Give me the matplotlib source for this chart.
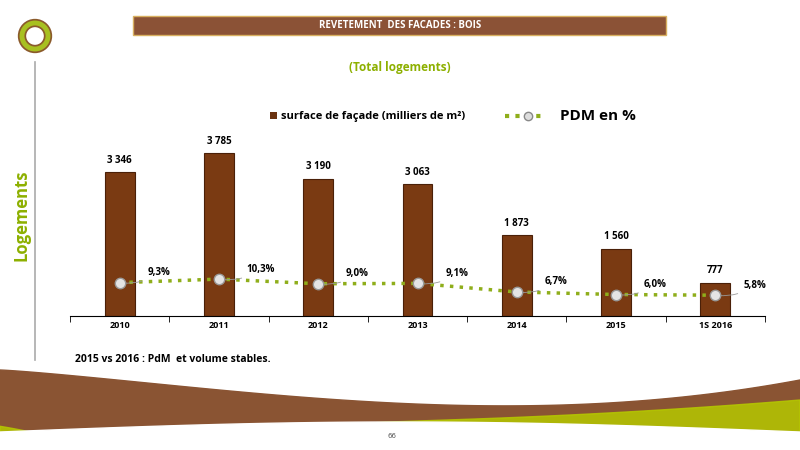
import matplotlib
matplotlib.use("Agg")
import matplotlib.pyplot as plt
from matplotlib.patches import Rectangle, Circle
import numpy as np

categories = ["2010", "2011", "2012", "2013", "2014", "2015", "1S 2016"]
surface = [3346, 3785, 3190, 3063, 1873, 1560, 777]
surface_labels = ["3 346", "3 785", "3 190", "3 063", "1 873", "1 560", "777"]
pdm = [9.3, 10.3, 9.0, 9.1, 6.7, 6.0, 5.8]
pdm_labels = ["9,3%", "10,3%", "9,0%", "9,1%", "6,7%", "6,0%", "5,8%"]

fig = plt.figure(figsize=(8, 4.5), dpi=100)
fig.patch.set_facecolor("white")
font = "Open Sans"

bg = fig.add_axes([0, 0, 1, 1], zorder=-5)
bg.set_xlim(0, 800); bg.set_ylim(450, 0); bg.axis("off")
xs = np.linspace(0, 800, 200)
bg.fill_between(xs, 450, 370 + 60*np.sin(np.pi*xs/1600)**1.2 - 50*(xs/800)**3, color="#8a5433")
bg.fill_between(xs, 450, 420 + 25*(xs/800) - 45*(xs/800)**2 + 30*np.exp(-((xs-150)/120)**2), color="#b5c800", alpha=0.85)
bg.fill_between(xs, 450, 432 - 10*np.sin(np.pi*xs/800), color="white")
bg.text(392, 436, "66", fontsize=5, color="#555555", ha="center", va="center")
bg.add_patch(Rectangle((133, 16), 533, 19, facecolor="#8b5236", edgecolor="#d8b060", lw=1))
bg.text(400, 26, "REVETEMENT  DES FACADES : BOIS", color="white", fontsize=7, fontweight="bold", ha="center", va="center", family=font)
bg.text(400, 67, "(Total logements)", color="#8db000", fontsize=8.5, fontweight="bold", ha="center", va="center", family=font)
bg.add_patch(Circle((35, 36), 13, facecolor="none", edgecolor="#8b5a2b", lw=6))
bg.add_patch(Circle((35, 36), 13, facecolor="none", edgecolor="#a8c020", lw=3.5))
bg.plot([35, 35], [62, 360], color="#aaaaaa", lw=1.2)
bg.text(22, 215, "Logements", color="#8db000", fontsize=12, fontweight="bold", rotation=90, ha="center", va="center", family=font)
bg.text(75, 360, "2015 vs 2016 : PdM  et volume stables.", fontsize=7.5, fontweight="bold", ha="left", va="center", family=font)
bg.add_patch(Rectangle((270, 112), 7, 7, facecolor="#6b3310"))
bg.text(281, 116, "surface de façade (milliers de m²)", fontsize=8, fontweight="bold", va="center", family=font)
bg.plot([505, 545], [116, 116], color="#8fae1b", lw=3, ls=(0, (1, 1.5)))
bg.plot([528], [116], "o", ms=6, color="#dddddd", mec="#888888")
bg.text(560, 116, "PDM en %", fontsize=11, fontweight="bold", va="center", family=font)

ax = fig.add_axes([70/800, 134/450, 695/800, 172/450])
x = np.arange(len(categories))
ax.bar(x, surface, width=0.3, color="#7a3a12", edgecolor="#4a2008", lw=0.8, zorder=2)
for xi, v, l in zip(x, surface, surface_labels):
    ax.text(xi, v + 150, l, ha="center", va="bottom", fontsize=7, fontweight="bold", family=font)
ax.set_xlim(-0.5, 6.5); ax.set_ylim(0, 4000)
ax.set_xticks(x); ax.set_xticklabels(categories, fontsize=6.5, fontweight="bold", family=font)
ax.set_xticks(np.arange(-0.5, 7, 1), minor=True)
ax.tick_params(axis="x", which="major", length=0)
ax.tick_params(axis="x", which="minor", length=4)
ax.set_yticks([])
for s in ["top", "right", "left"]:
    ax.spines[s].set_visible(False)
ax.patch.set_alpha(0)

ax2 = ax.twinx()
ax2.set_ylim(0, 48)
ax2.plot(x, pdm, color="#8fae1b", lw=2.5, ls=(0, (1, 1.8)), zorder=3)
ax2.plot(x, pdm, "o", ms=7.5, color="#e4e4e4", mec="#999999", zorder=4)
for xi, v, l in zip(x, pdm, pdm_labels):
    ax2.annotate(l, (xi, v), xytext=(xi + 0.28, v + 2.8), fontsize=7, fontweight="bold", family=font,
                 ha="left", va="center", arrowprops=dict(arrowstyle="-", color="#999999", lw=0.6,
                 connectionstyle="arc3,rad=-0.2"))
ax2.axis("off")

fig.savefig("out.png", dpi=100)
